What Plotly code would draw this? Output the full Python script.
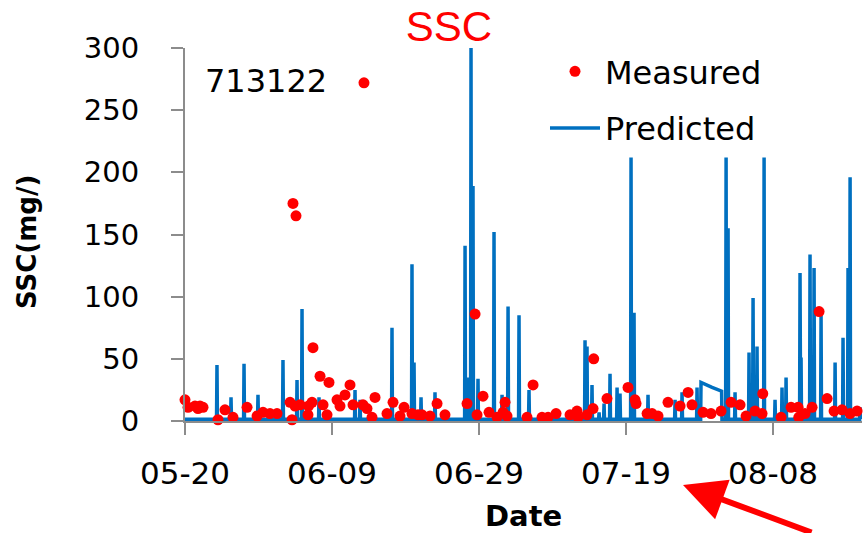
import pandas as pd
import plotly.graph_objects as go

START = pd.Timestamp("2013-05-20")

# Measured SSC samples: day offset from 05-20, value (mg/L)
measured_day = [0.00, 0.41, 1.36, 1.77, 2.04, 2.45, 4.49, 5.44, 6.53, 8.44, 9.80, 10.61,
                11.56, 12.52, 14.29, 14.56, 14.69, 14.97, 15.10, 15.65, 16.73, 16.80,
                17.28, 17.41, 18.37, 18.78, 19.32, 19.59, 20.68, 21.09, 21.77, 22.45,
                22.86, 24.22, 24.35, 24.76, 25.44, 25.85, 27.48, 28.30, 29.25, 29.80,
                30.88, 31.70, 32.24, 33.33, 34.29, 35.37, 38.37, 39.46, 39.73, 40.54,
                41.36, 42.45, 43.27, 43.54, 43.81, 46.53, 47.35, 48.57, 49.39, 50.48,
                52.38, 53.33, 53.47, 54.69, 55.51, 55.60, 57.41, 60.27, 61.22, 61.36,
                62.86, 63.54, 64.35, 65.71, 67.35, 68.44, 68.98, 70.48, 71.56, 72.93,
                74.29, 75.51, 76.33, 77.55, 78.50, 78.60, 81.09, 82.45, 83.40, 83.50,
                84.35, 85.31, 86.26, 87.35, 88.30, 89.39, 90.48, 91.43]
measured_ssc = [17, 11, 12, 10, 12, 11, 1, 9, 3, 11, 4, 7,
                6, 6, 15, 1, 175, 12, 165, 13, 5, 12,
                15, 59, 36, 13, 5, 31, 17, 12, 21, 29,
                13, 13, 272, 10, 3, 19, 6, 15, 4, 11,
                6, 5, 5, 4, 14, 5, 14, 86, 5, 20,
                7, 3, 7, 15, 4, 3, 29, 3, 3, 6,
                5, 8, 3, 5, 10, 50, 18, 27, 17, 14,
                6, 6, 4, 15, 12, 23, 13, 7, 6, 8,
                15, 13, 4, 8, 6, 22, 3, 11, 11, 3,
                6, 11, 88, 18, 8, 9, 6, 8]

# Predicted SSC: low base level with storm spikes (day offset, peak value)
base_level = 1.5
series_end_day = 92.0
spike_day = [4.35, 6.26, 8.03, 9.93, 13.33, 15.24, 15.92, 18.23, 23.13, 23.81, 28.16,
             30.88, 31.16, 32.11, 34.01, 38.10, 38.50, 38.91, 39.18, 39.86, 42.04,
             43.13, 43.95, 45.44, 46.80, 54.42, 54.69, 55.37, 56.33, 57.01, 57.82,
             58.78, 59.18, 60.68, 61.09, 62.99, 66.67, 67.62, 69.66, 73.61, 73.88,
             74.83, 76.73, 77.28, 77.82, 78.78, 80.27, 81.22, 81.77, 83.67, 83.81,
             85.03, 85.58, 86.53, 88.44, 89.52, 90.20, 90.48, 91.84]
spike_peak = [45, 19, 46, 21, 49, 33, 90, 19, 25, 17, 75,
              126, 47, 19, 23, 141, 35, 300, 189, 34, 152,
              21, 92, 85, 25, 65, 60, 29, 7, 14, 38,
              27, 22, 212, 87, 21, 17, 23, 27, 212, 155,
              23, 55, 99, 60, 212, 17, 27, 35, 119, 51,
              134, 123, 85, 47, 67, 123, 196, 11]
plateau_day = [70.15, 70.20, 71.70, 73.00, 73.05]
plateau_val = [base_level, 31, 27, 24, base_level]

pts = [(0.0, base_level), (series_end_day, base_level)]
for d, p in zip(spike_day, spike_peak):
    pts += [(d - 0.06, base_level), (d, p), (d + 0.06, base_level)]
pts += list(zip(plateau_day, plateau_val))
pts.sort(key=lambda t: t[0])
pred_x = [START + pd.to_timedelta(d, unit="D") for d, _ in pts]
pred_y = [v for _, v in pts]
meas_x = [START + pd.to_timedelta(d, unit="D") for d in measured_day]

FONT = "DejaVu Sans"
GRAY = "#8c8c8c"

fig = go.Figure()
fig.add_trace(go.Scatter(x=pred_x, y=pred_y, mode="lines", name="Predicted",
                         line=dict(color="#0070C0", width=3.5), legendrank=2,
                         legendgroup="p"))
fig.add_trace(go.Scatter(x=meas_x, y=measured_ssc, mode="markers", name="Measured",
                         marker=dict(color="#FF0000", size=11), legendrank=1,
                         legendgroup="m", cliponaxis=False))

L, R, T, B = 185, 4, 48, 112
W, H = 866, 533
pw, ph = W - L - R, H - T - B

def px(xp):
    return (xp - L) / pw

def py(yp):
    return (H - B - yp) / ph

fig.update_layout(
    width=W, height=H,
    margin=dict(l=L, r=R, t=T, b=B),
    paper_bgcolor="white", plot_bgcolor="white",
    font=dict(family=FONT, color="black"),
    title=dict(text="SSC", x=449 / W, xanchor="center", y=1 - 26 / H, yanchor="middle",
               font=dict(family="Liberation Sans", size=42, color="#FF0000")),
    showlegend=True,
    legend=dict(x=px(545), y=py(44), xanchor="left", yanchor="top",
                font=dict(family=FONT, size=32), bgcolor="rgba(0,0,0,0)",
                itemwidth=50, tracegroupgap=12),
    xaxis=dict(
        type="date",
        range=[START, START + pd.to_timedelta(92.1, unit="D")],
        tick0=START, dtick=20 * 86400000, tickformat="%m-%d",
        showgrid=False, zeroline=False, automargin=False,
        showline=True, linecolor=GRAY, linewidth=2,
        ticks="outside", ticklen=12, tickcolor=GRAY, tickwidth=2,
        tickfont=dict(family=FONT, size=31), ticklabelstandoff=12,
    ),
    yaxis=dict(
        range=[0, 300], tick0=0, dtick=50,
        showgrid=False, zeroline=False, automargin=False,
        showline=True, linecolor=GRAY, linewidth=2,
        ticks="outside", ticklen=12, tickcolor=GRAY, tickwidth=2,
        tickfont=dict(family=FONT, size=29), ticklabelstandoff=26,
    ),
    annotations=[
        dict(text="713122", xref="paper", yref="paper", x=px(203), y=py(81),
             xanchor="left", yanchor="middle", showarrow=False,
             font=dict(family=FONT, size=32, color="black")),
        dict(text="<b>SSC(mg/)</b>", xref="paper", yref="paper", x=px(27), y=py(242),
             xanchor="center", yanchor="middle", textangle=-90, showarrow=False,
             font=dict(family=FONT, size=26, color="black")),
        dict(text="<b>Date</b>", xref="paper", yref="paper", x=px(523), y=py(516),
             xanchor="center", yanchor="middle", showarrow=False,
             font=dict(family=FONT, size=29, color="black")),
        dict(text="", xref="paper", yref="paper", x=px(683), y=py(485),
             ax=130, ay=52, showarrow=True, arrowhead=2, arrowsize=1.4,
             arrowwidth=6, arrowcolor="#FF0000"),
    ],
)

fig.write_html("out.html")
